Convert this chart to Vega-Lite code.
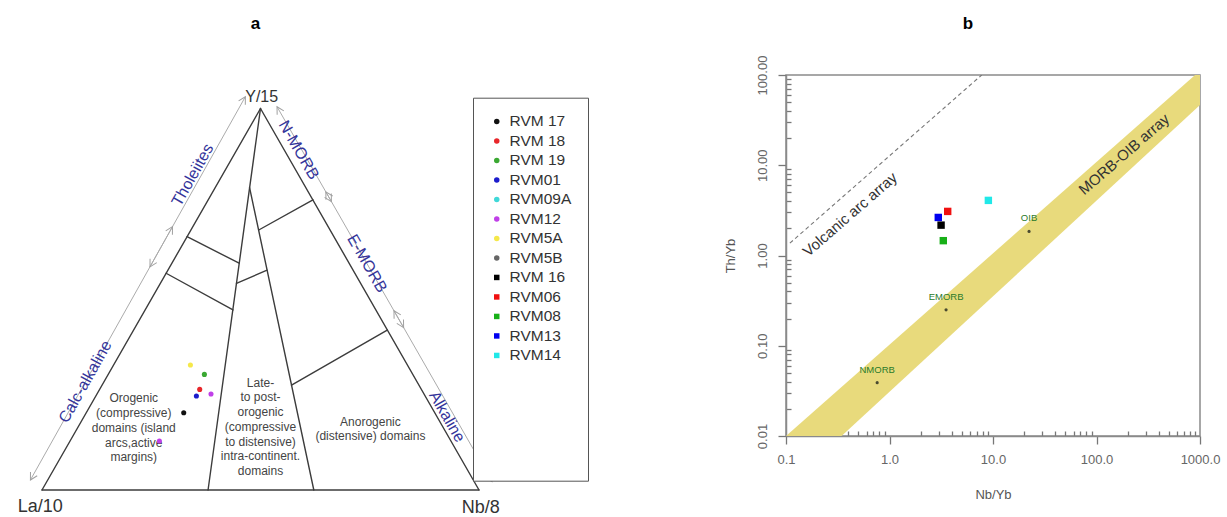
{
  "$schema": "https://vega.github.io/schema/vega-lite/v6.json",
  "background": "white",
  "padding": {"left": 17, "top": 14, "right": 0, "bottom": 0},
  "spacing": 134,
  "config": {
    "font": "Liberation Sans",
    "view": {"stroke": null},
    "axis": {"grid": false}
  },
  "resolve": {
    "scale": {"color": "independent", "shape": "independent"},
    "legend": {"color": "independent", "shape": "independent"}
  },
  "datasets": {
    "ternaryFrame": [
      {"x": 0, "y": 0, "x2": 100, "y2": 0},
      {"x": 0, "y": 0, "x2": 50, "y2": 87.3},
      {"x": 100, "y": 0, "x2": 50, "y2": 87.3},
      {"x": 50, "y": 87.3, "x2": 38, "y2": 0},
      {"x": 47.5, "y": 69.2, "x2": 62.2, "y2": 0},
      {"x": 33.2, "y": 58.0, "x2": 45.1, "y2": 51.9},
      {"x": 28.4, "y": 49.6, "x2": 43.7, "y2": 41.2},
      {"x": 44.5, "y": 47.3, "x2": 51.5, "y2": 50.3},
      {"x": 49.6, "y": 59.5, "x2": 62.0, "y2": 66.4},
      {"x": 57.1, "y": 24.0, "x2": 79.0, "y2": 36.6}
    ],
    "affinityArrows": [
      {"name": "Calc-alkaline", "side": "left", "x": -2.65, "y": 2.29, "x2": 29.86, "y2": 60.26, "lx": 9.93, "ly": 24.78},
      {"name": "Tholeiites", "side": "left", "x": 24.71, "y": 51.07, "x2": 46.54, "y2": 90.0, "lx": 34.49, "ly": 72.08},
      {"name": "N-MORB", "side": "right", "x": 53.78, "y": 87.71, "x2": 66.23, "y2": 66.0, "lx": 58.74, "ly": 77.8},
      {"name": "E-MORB", "side": "right", "x": 64.95, "y": 68.23, "x2": 82.75, "y2": 37.17, "lx": 74.37, "ly": 51.85},
      {"name": "Alkaline", "side": "right", "x": 80.54, "y": 41.03, "x2": 102.97, "y2": 1.9, "lx": 92.68, "ly": 16.77}
    ],
    "apexLabel": [{"label": "Y/15", "x": 50.27, "y": 90.0}],
    "baseLabels": [
      {"label": "La/10", "x": -0.4, "y": -3.9},
      {"label": "Nb/8", "x": 100.4, "y": -4.2}
    ],
    "fieldLabels": [
      {"label": "Orogenic\n(compressive)\ndomains (island\narcs,active\nmargins)", "x": 21.0, "y": 20.96},
      {"label": "Late-\nto post-\norogenic\n(compressive\nto distensive)\nintra-continent.\ndomains", "x": 50.0, "y": 24.55},
      {"label": "Anorogenic\n(distensive) domains", "x": 75.15, "y": 15.63}
    ],
    "ternarySamples": [
      {"sample": "RVM5A", "x": 33.96, "y": 28.6},
      {"sample": "RVM 19", "x": 37.16, "y": 26.45},
      {"sample": "RVM 18", "x": 36.09, "y": 23.02},
      {"sample": "RVM01", "x": 35.33, "y": 21.51},
      {"sample": "RVM12", "x": 38.67, "y": 21.97},
      {"sample": "RVM 17", "x": 32.43, "y": 17.69},
      {"sample": "RVM12", "x": 26.86, "y": 11.21}
    ],
    "morbOibArray": [
      {"nb": 0.1, "th": 0.0027, "th2": 0.01},
      {"nb": 1000, "th": 46.4, "th2": 111.7}
    ],
    "volcanicArcArray": [
      {"nb": 0.109, "th": 1.37},
      {"nb": 7.78, "th": 100}
    ],
    "arrayLabels": [
      {"label": "Volcanic arc array", "nb": 0.415, "th": 2.85},
      {"label": "MORB-OIB array", "nb": 184.5, "th": 13.2}
    ],
    "mantleRefs": [
      {"name": "NMORB", "nb": 0.76, "th": 0.039},
      {"name": "EMORB", "nb": 3.52, "th": 0.25},
      {"name": "OIB", "nb": 22.3, "th": 1.85}
    ],
    "ratioSamples": [
      {"sample": "RVM 16", "nb": 3.15, "th": 2.17},
      {"sample": "RVM06", "nb": 3.65, "th": 3.08},
      {"sample": "RVM08", "nb": 3.31, "th": 1.46},
      {"sample": "RVM13", "nb": 2.96, "th": 2.64},
      {"sample": "RVM14", "nb": 9.02, "th": 4.08}
    ]
  },
  "hconcat": [
    {
      "title": {"text": "a", "fontSize": 17, "fontWeight": "bold", "color": "#000", "anchor": "middle", "offset": 42, "dx": -5},
      "width": 437,
      "height": 415,
      "view": {"stroke": null},
      "layer": [
        {
          "data": {"name": "affinityArrows"},
          "mark": {"type": "rule", "color": "#ababab", "strokeWidth": 1},
          "encoding": {
            "x": {"field": "x", "type": "quantitative", "scale": {"domain": [0, 100], "nice": false, "zero": false}, "axis": null},
            "y": {"field": "y", "type": "quantitative", "scale": {"domain": [0, 94.97], "nice": false, "zero": false}, "axis": null},
            "x2": {"field": "x2"},
            "y2": {"field": "y2"}
          }
        },
        {
          "data": {"name": "affinityArrows"},
          "transform": [{"filter": "datum.side === 'left'"}],
          "mark": {"type": "point", "shape": "M-0.55,1L0,0L0.55,1", "filled": false, "size": 196, "angle": 209.3, "color": "#a0a0a0", "strokeWidth": 1, "opacity": 1},
          "encoding": {
            "x": {"field": "x", "type": "quantitative", "axis": null},
            "y": {"field": "y", "type": "quantitative", "axis": null}
          }
        },
        {
          "data": {"name": "affinityArrows"},
          "transform": [{"filter": "datum.side === 'left'"}],
          "mark": {"type": "point", "shape": "M-0.55,1L0,0L0.55,1", "filled": false, "size": 196, "angle": 29.3, "color": "#a0a0a0", "strokeWidth": 1, "opacity": 1},
          "encoding": {
            "x": {"field": "x2", "type": "quantitative", "axis": null},
            "y": {"field": "y2", "type": "quantitative", "axis": null}
          }
        },
        {
          "data": {"name": "affinityArrows"},
          "transform": [{"filter": "datum.side === 'right'"}],
          "mark": {"type": "point", "shape": "M-0.55,1L0,0L0.55,1", "filled": false, "size": 196, "angle": 330.2, "color": "#a0a0a0", "strokeWidth": 1, "opacity": 1},
          "encoding": {
            "x": {"field": "x", "type": "quantitative", "axis": null},
            "y": {"field": "y", "type": "quantitative", "axis": null}
          }
        },
        {
          "data": {"name": "affinityArrows"},
          "transform": [{"filter": "datum.side === 'right'"}],
          "mark": {"type": "point", "shape": "M-0.55,1L0,0L0.55,1", "filled": false, "size": 196, "angle": 150.2, "color": "#a0a0a0", "strokeWidth": 1, "opacity": 1},
          "encoding": {
            "x": {"field": "x2", "type": "quantitative", "axis": null},
            "y": {"field": "y2", "type": "quantitative", "axis": null}
          }
        },
        {
          "data": {"name": "ternaryFrame"},
          "mark": {"type": "rule", "color": "#3c3c3c", "strokeWidth": 1.4, "strokeCap": "round"},
          "encoding": {
            "x": {"field": "x", "type": "quantitative", "axis": null},
            "y": {"field": "y", "type": "quantitative", "axis": null},
            "x2": {"field": "x2"},
            "y2": {"field": "y2"}
          }
        },
        {
          "data": {"name": "affinityArrows"},
          "transform": [{"filter": "datum.side === 'left'"}],
          "mark": {"type": "text", "angle": -60.7, "fontSize": 16, "color": "#34349a", "align": "center", "baseline": "middle"},
          "encoding": {
            "x": {"field": "lx", "type": "quantitative", "axis": null},
            "y": {"field": "ly", "type": "quantitative", "axis": null},
            "text": {"field": "name"}
          }
        },
        {
          "data": {"name": "affinityArrows"},
          "transform": [{"filter": "datum.side === 'right'"}],
          "mark": {"type": "text", "angle": 60.2, "fontSize": 16, "color": "#34349a", "align": "center", "baseline": "middle"},
          "encoding": {
            "x": {"field": "lx", "type": "quantitative", "axis": null},
            "y": {"field": "ly", "type": "quantitative", "axis": null},
            "text": {"field": "name"}
          }
        },
        {
          "data": {"name": "apexLabel"},
          "mark": {"type": "text", "fontSize": 16, "color": "#333", "align": "center", "baseline": "middle"},
          "encoding": {
            "x": {"field": "x", "type": "quantitative", "axis": null},
            "y": {"field": "y", "type": "quantitative", "axis": null},
            "text": {"field": "label"}
          }
        },
        {
          "data": {"name": "baseLabels"},
          "mark": {"type": "text", "fontSize": 18, "color": "#333", "align": "center", "baseline": "middle"},
          "encoding": {
            "x": {"field": "x", "type": "quantitative", "axis": null},
            "y": {"field": "y", "type": "quantitative", "axis": null},
            "text": {"field": "label"}
          }
        },
        {
          "data": {"name": "fieldLabels"},
          "mark": {"type": "text", "fontSize": 12, "lineHeight": 14.7, "lineBreak": "\n", "color": "#444", "align": "center", "baseline": "middle"},
          "encoding": {
            "x": {"field": "x", "type": "quantitative", "axis": null},
            "y": {"field": "y", "type": "quantitative", "axis": null},
            "text": {"field": "label"}
          }
        },
        {
          "data": {"name": "ternarySamples"},
          "mark": {"type": "point", "filled": true, "size": 26, "opacity": 1},
          "encoding": {
            "x": {"field": "x", "type": "quantitative", "axis": null},
            "y": {"field": "y", "type": "quantitative", "axis": null},
            "color": {
              "field": "sample",
              "type": "nominal",
              "scale": {
                "domain": ["RVM 17", "RVM 18", "RVM 19", "RVM01", "RVM09A", "RVM12", "RVM5A", "RVM5B", "RVM 16", "RVM06", "RVM08", "RVM13", "RVM14"],
                "range": ["#111111", "#e8262a", "#3aa832", "#1c1ccc", "#40d8d8", "#c040e8", "#f5e84a", "#666666", "#000000", "#f01010", "#18b018", "#0000f0", "#20e8e8"]
              },
              "legend": {
                "orient": "none",
                "legendX": 431,
                "legendY": 22.7,
                "padding": 16,
                "strokeColor": "#555",
                "fillColor": "#ffffff",
                "labelFont": "Liberation Sans",
                "labelFontSize": 15.5,
                "labelColor": "#333",
                "labelOffset": 5,
                "rowPadding": 2.5,
                "symbolSize": 30,
                "symbolStrokeWidth": 0,
                "title": " ",
                "titleOrient": "bottom",
                "titleFontSize": 1,
                "titlePadding": 100
              }
            },
            "shape": {
              "field": "sample",
              "type": "nominal",
              "scale": {
                "domain": ["RVM 17", "RVM 18", "RVM 19", "RVM01", "RVM09A", "RVM12", "RVM5A", "RVM5B", "RVM 16", "RVM06", "RVM08", "RVM13", "RVM14"],
                "range": ["circle", "circle", "circle", "circle", "circle", "circle", "circle", "circle", "square", "square", "square", "square", "square"]
              },
              "legend": {
                "orient": "none",
                "legendX": 431,
                "legendY": 22.7,
                "title": " ",
                "titleOrient": "bottom",
                "titleFontSize": 1,
                "titlePadding": 100
              }
            }
          }
        }
      ]
    },
    {
      "title": {"text": "b", "fontSize": 17, "fontWeight": "bold", "color": "#000", "anchor": "middle", "offset": 22, "dx": -25},
      "width": 414,
      "height": 361,
      "view": {"stroke": "#8a8a8a", "strokeWidth": 1.5},
      "layer": [
        {
          "data": {"name": "morbOibArray"},
          "mark": {"type": "area", "color": "#e8da7c", "opacity": 1, "clip": true},
          "encoding": {
            "x": {
              "field": "nb",
              "type": "quantitative",
              "scale": {"type": "log", "domain": [0.1, 1000], "nice": false},
              "axis": {
                "values": [0.1, 0.2, 0.3, 0.4, 0.5, 0.6, 0.7, 0.8, 0.9, 1, 2, 3, 4, 5, 6, 7, 8, 9, 10, 20, 30, 40, 50, 60, 70, 80, 90, 100, 200, 300, 400, 500, 600, 700, 800, 900, 1000],
                "labelExpr": "abs(log(datum.value) / LN10 - round(log(datum.value) / LN10)) < 0.001 ? format(datum.value, '.1f') : ''",
                "tickSize": {"condition": {"test": "abs(log(datum.value) / LN10 - round(log(datum.value) / LN10)) < 0.001", "value": 8}, "value": -5},
                "tickColor": "#777",
                "tickWidth": 1.3,
                "domainColor": "#8a8a8a",
                "domainWidth": 1.5,
                "labelFontSize": 13,
                "labelColor": "#666",
                "labelPadding": 9,
                "labelFlush": false,
                "labelOverlap": false,
                "title": "Nb/Yb",
                "titleFontSize": 13,
                "titleFontWeight": "normal",
                "titleColor": "#555",
                "titlePadding": 22
              }
            },
            "y": {
              "field": "th",
              "type": "quantitative",
              "scale": {"type": "log", "domain": [0.01, 100], "nice": false},
              "axis": {
                "values": [0.01, 0.02, 0.03, 0.04, 0.05, 0.06, 0.07, 0.08, 0.09, 0.1, 0.2, 0.3, 0.4, 0.5, 0.6, 0.7, 0.8, 0.9, 1, 2, 3, 4, 5, 6, 7, 8, 9, 10, 20, 30, 40, 50, 60, 70, 80, 90, 100],
                "labelExpr": "abs(log(datum.value) / LN10 - round(log(datum.value) / LN10)) < 0.001 ? format(datum.value, '.2f') : ''",
                "tickSize": {"condition": {"test": "abs(log(datum.value) / LN10 - round(log(datum.value) / LN10)) < 0.001", "value": 8}, "value": -5},
                "tickColor": "#777",
                "tickWidth": 1.3,
                "domainColor": "#8a8a8a",
                "domainWidth": 1.5,
                "labelAngle": -90,
                "labelAlign": "center",
                "labelBaseline": "bottom",
                "labelFontSize": 13,
                "labelColor": "#666",
                "labelPadding": 9,
                "labelFlush": false,
                "labelOverlap": false,
                "title": "Th/Yb",
                "titleFontSize": 13,
                "titleFontWeight": "normal",
                "titleColor": "#555",
                "titlePadding": 19
              }
            },
            "y2": {"field": "th2"}
          }
        },
        {
          "data": {"name": "volcanicArcArray"},
          "mark": {"type": "line", "color": "#777", "strokeDash": [4, 3], "strokeWidth": 1.1, "clip": true},
          "encoding": {
            "x": {"field": "nb", "type": "quantitative", "scale": {"type": "log"}},
            "y": {"field": "th", "type": "quantitative", "scale": {"type": "log"}}
          }
        },
        {
          "data": {"name": "arrayLabels"},
          "mark": {"type": "text", "angle": -41, "fontSize": 15, "color": "#333", "align": "center", "baseline": "middle"},
          "encoding": {
            "x": {"field": "nb", "type": "quantitative", "scale": {"type": "log"}},
            "y": {"field": "th", "type": "quantitative", "scale": {"type": "log"}},
            "text": {"field": "label"}
          }
        },
        {
          "data": {"name": "mantleRefs"},
          "mark": {"type": "point", "filled": true, "size": 10, "color": "#4a4a30", "opacity": 1},
          "encoding": {
            "x": {"field": "nb", "type": "quantitative", "scale": {"type": "log"}},
            "y": {"field": "th", "type": "quantitative", "scale": {"type": "log"}}
          }
        },
        {
          "data": {"name": "mantleRefs"},
          "mark": {"type": "text", "dy": -13, "fontSize": 9.5, "color": "#2a7a2a", "align": "center", "baseline": "middle"},
          "encoding": {
            "x": {"field": "nb", "type": "quantitative", "scale": {"type": "log"}},
            "y": {"field": "th", "type": "quantitative", "scale": {"type": "log"}},
            "text": {"field": "name"}
          }
        },
        {
          "data": {"name": "ratioSamples"},
          "mark": {"type": "point", "shape": "square", "filled": true, "size": 55, "opacity": 1},
          "encoding": {
            "x": {"field": "nb", "type": "quantitative", "scale": {"type": "log"}},
            "y": {"field": "th", "type": "quantitative", "scale": {"type": "log"}},
            "color": {
              "field": "sample",
              "type": "nominal",
              "scale": {
                "domain": ["RVM 17", "RVM 18", "RVM 19", "RVM01", "RVM09A", "RVM12", "RVM5A", "RVM5B", "RVM 16", "RVM06", "RVM08", "RVM13", "RVM14"],
                "range": ["#111111", "#e8262a", "#3aa832", "#1c1ccc", "#40d8d8", "#c040e8", "#f5e84a", "#666666", "#000000", "#f01010", "#18b018", "#0000f0", "#20e8e8"]
              },
              "legend": null
            }
          }
        }
      ]
    }
  ]
}
